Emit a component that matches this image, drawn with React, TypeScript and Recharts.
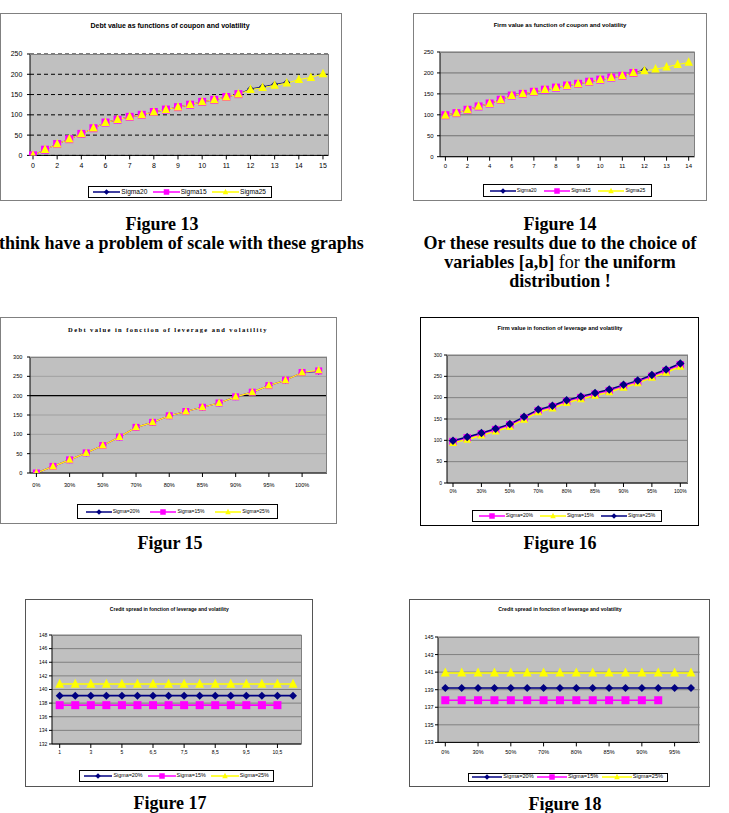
import React from 'react';
import { LineChart, Line, XAxis, YAxis, CartesianGrid, ReferenceLine } from 'recharts';

// ---------- DATA ----------
const fig13Cats = ['0','1','2','3','4','5','6','6,5','7','7,5','8','8,5','9','9,5','10','10,5','11','11,5','12','12,5','13','13,5','14','14,5','15'];
const fig13Sigma20 = [0,14,28,40,53,67,81,88,95,100,107,113,119,125,132,137,144,151,164,169,175,180];
const fig13Sigma15 = [0,14,28,40,53,67,81,88,95,100,107,113,119,125,132,137,144,151];
const fig13Sigma25 = [0,14,28,40,53,67,81,88,95,100,107,113,119,125,132,137,144,151,162,167,173,178,187,192,201];
const fig13Ticks = [0,50,100,150,200,250];

const fig14Cats = ['0','1','2','3','4','5','6','6,5','7','7,5','8','8,5','9','9,5','10','10,5','11','11,5','12','12,5','13','13,5','14'];
const fig14Sigma20 = [99,104,112,120,127,136,146,150,155,160,165,170,174,179,184,189,193,200,207];
const fig14Sigma15 = [99,104,112,120,127,136,146,150,155,160,165,170,174,179,184,189,193,200];
const fig14Sigma25 = [99,104,112,120,127,136,146,150,155,160,165,170,174,179,184,189,193,200,205,209,214,220,225];
const fig14Ticks = [0,50,100,150,200,250];

const fig15Cats = ['0%','20%','30%','40%','50%','60%','70%','75%','80%','83%','85%','88%','90%','93%','95%','98%','100%','105%'];
const fig15Sigma20 = [0,17,34,52,71,93,118,131,148,159,170,181,197,209,226,240,260,263];
const fig15Sigma15 = [0,17,34,52,71,93,118,131,148,159,170,181,197,209,226,240,260,264];
const fig15Sigma25 = [0,17,34,52,71,93,118,131,148,159,170,181,197,209,226,240,260,266];
const fig15Ticks = [0,50,100,150,200,250,300];
const fig15DarkLine = 200;

const fig16Cats = ['0%','20%','30%','40%','50%','60%','70%','75%','80%','83%','85%','88%','90%','93%','95%','98%','100%'];
const fig16Sigma20 = [97,106,115,125,136,152,169,179,191,200,208,216,227,237,250,263,277];
const fig16Sigma15 = [94,102,112,121,132,149,166,175,188,197,205,213,224,234,247,259,273];
const fig16Sigma25 = [99,108,117,127,138,155,172,181,194,203,211,219,230,240,253,266,280];
const fig16Ticks = [0,50,100,150,200,250,300];

const fig17Cats = ['1','2','3','4','5','6','6,5','7','7,5','8','8,5','9','9,5','10','10,5','11'];
const fig17Sigma20 = [139.1,139.1,139.1,139.1,139.1,139.1,139.1,139.1,139.1,139.1,139.1,139.1,139.1,139.1,139.1,139.1];
const fig17Sigma15 = [137.7,137.7,137.7,137.7,137.7,137.7,137.7,137.7,137.7,137.7,137.7,137.7,137.7,137.7,137.7];
const fig17Sigma25 = [140.8,140.8,140.8,140.8,140.8,140.8,140.8,140.8,140.8,140.8,140.8,140.8,140.8,140.8,140.8,140.8];
const fig17Ticks = [132,134,136,138,140,142,144,146,148];

const fig18Cats = ['0%','20%','30%','40%','50%','60%','70%','75%','80%','83%','85%','88%','90%','93%','95%','98%'];
const fig18Sigma20 = [139.2,139.2,139.2,139.2,139.2,139.2,139.2,139.2,139.2,139.2,139.2,139.2,139.2,139.2,139.2,139.2];
const fig18Sigma15 = [137.8,137.8,137.8,137.8,137.8,137.8,137.8,137.8,137.8,137.8,137.8,137.8,137.8,137.8];
const fig18Sigma25 = [140.9,140.9,140.9,140.9,140.9,140.9,140.9,140.9,140.9,140.9,140.9,140.9,140.9,140.9,140.9,140.9];
const fig18Ticks = [133,135,137,139,141,143,145];

// ---------- HELPERS ----------
const NAVY = '#000080';
const MAGENTA = '#FF00FF';
const YELLOW = '#FFFF00';
const SANS = '"Liberation Sans", Arial, sans-serif';
const SERIF = '"Liberation Serif", "Times New Roman", serif';

type Shape = 'diamond' | 'square' | 'triangle';
type S = { key: string; name: string; color: string; shape: Shape; values: number[]; size: number };

function buildRows(cats: string[], series: S[]) {
  return cats.map((c, i) => {
    const row: any = { cat: c };
    series.forEach((s) => {
      row[s.key] = i < s.values.length ? s.values[i] : null;
    });
    return row;
  });
}

function shapeEl(shape: Shape, cx: number, cy: number, size: number, color: string, key?: any) {
  const h = size / 2;
  if (shape === 'square') return <rect key={key} x={cx - h} y={cy - h} width={size} height={size} fill={color} />;
  if (shape === 'diamond')
    return <polygon key={key} points={`${cx},${cy - h} ${cx + h},${cy} ${cx},${cy + h} ${cx - h},${cy}`} fill={color} />;
  const t = size;
  return (
    <polygon key={key} points={`${cx},${cy - t * 0.6} ${cx + t / 2},${cy + t * 0.4} ${cx - t / 2},${cy + t * 0.4}`} fill={color} />
  );
}

const makeDot = (shape: Shape, color: string, size: number) => (p: any) => {
  const { cx, cy, index } = p;
  if (cx == null || cy == null || p.value == null || isNaN(cy)) return <g key={`n${index}`} />;
  return shapeEl(shape, cx, cy, size, color, `d${index}`);
};

type Box = { l: number; t: number; r: number; b: number };
type Cfg = {
  frame: Box; frameColor: string; frameW: number;
  title: string; titleY: number; titleStyle: React.CSSProperties; titleX: number;
  plot: Box; padL: number; padR: number;
  cats: string[]; series: S[]; domain: [number, number]; ticks: number[];
  tickFont: number; xTickSize: number; xTickMargin: number; yTickMargin: number;
  gridStroke: string; gridDash?: string; darkLine?: number;
  lineW: number;
  legend: Box; legendFont: number; legendOrder: S[]; legendLine: number;
};

function Panel({ c }: { c: Cfg }) {
  const yW = 40, top = 10, xH = 30, right = 12;
  const pw = c.plot.r - c.plot.l, ph = c.plot.b - c.plot.t;
  const data = buildRows(c.cats, c.series);
  return (
    <>
      <div style={{ position: 'absolute', left: c.frame.l, top: c.frame.t, width: c.frame.r - c.frame.l, height: c.frame.b - c.frame.t, border: `${c.frameW}px solid ${c.frameColor}`, boxSizing: 'border-box', background: '#fff' }} />
      <div style={{ position: 'absolute', left: c.titleX, top: c.titleY, transform: 'translate(-50%,-50%)', whiteSpace: 'nowrap', fontWeight: 'bold', color: '#000', ...c.titleStyle }}>{c.title}</div>
      <div style={{ position: 'absolute', left: c.plot.l - yW, top: c.plot.t - top }}>
        <LineChart width={pw + yW + right} height={ph + top + xH} data={data} margin={{ top, right, left: 0, bottom: 0 }}>
          <CartesianGrid vertical={false} fill="#C0C0C0" fillOpacity={1} stroke={c.gridStroke} strokeDasharray={c.gridDash} />
          <XAxis dataKey="cat" interval={1} padding={{ left: c.padL, right: c.padR }} height={xH} stroke="#000"
            tick={{ fontSize: c.tickFont, fill: '#000', fontFamily: SANS }} tickLine={{ stroke: '#000' }} axisLine={{ stroke: '#000' }}
            tickSize={c.xTickSize} tickMargin={c.xTickMargin} />
          <YAxis type="number" domain={c.domain} ticks={c.ticks} width={yW} interval={0} stroke="#000"
            tick={{ fontSize: c.tickFont, fill: '#000', fontFamily: SANS }} tickLine={{ stroke: '#000' }} axisLine={{ stroke: '#000' }}
            tickSize={3} tickMargin={c.yTickMargin} allowDataOverflow />
          {c.darkLine != null && <ReferenceLine y={c.darkLine} stroke="#000" strokeWidth={1.3} ifOverflow="hidden" />}
          {c.series.map((s) => (
            <Line key={s.key} dataKey={s.key} stroke={s.color} strokeWidth={c.lineW} dot={makeDot(s.shape, s.color, s.size)}
              activeDot={false} isAnimationActive={false} connectNulls={false} type="linear" />
          ))}
        </LineChart>
      </div>
      <div style={{ position: 'absolute', left: c.plot.l, top: c.plot.t, width: pw, height: ph, borderTop: '1px solid #808080', borderRight: '1px solid #808080', boxSizing: 'border-box', pointerEvents: 'none' }} />
      <div style={{ position: 'absolute', left: c.legend.l, top: c.legend.t, width: c.legend.r - c.legend.l, height: c.legend.b - c.legend.t, border: '1px solid #000', boxSizing: 'border-box', background: '#fff', display: 'flex', alignItems: 'center', justifyContent: 'space-around', fontFamily: SANS, fontSize: c.legendFont, color: '#000', padding: '0 2px' }}>
        {c.legendOrder.map((s) => (
          <div key={s.key} style={{ display: 'flex', alignItems: 'center', whiteSpace: 'nowrap' }}>
            <svg width={c.legendLine} height={10} style={{ display: 'block' }}>
              <line x1={0} x2={c.legendLine} y1={5} y2={5} stroke={s.color} strokeWidth={1.5} />
              {shapeEl(s.shape, c.legendLine / 2, 5, 5.5, s.color)}
            </svg>
            <span style={{ marginLeft: 1, lineHeight: 1 }}>{s.name}</span>
          </div>
        ))}
      </div>
    </>
  );
}

// ---------- CONFIGS ----------
const s13: S[] = [
  { key: 'a', name: 'Sigma20', color: NAVY, shape: 'diamond', values: fig13Sigma20, size: 7 },
  { key: 'b', name: 'Sigma15', color: MAGENTA, shape: 'square', values: fig13Sigma15, size: 8 },
  { key: 'c', name: 'Sigma25', color: YELLOW, shape: 'triangle', values: fig13Sigma25, size: 8.5 },
];
const s14: S[] = [
  { key: 'a', name: 'Sigma20', color: NAVY, shape: 'diamond', values: fig14Sigma20, size: 7 },
  { key: 'b', name: 'Sigma15', color: MAGENTA, shape: 'square', values: fig14Sigma15, size: 8 },
  { key: 'c', name: 'Sigma25', color: YELLOW, shape: 'triangle', values: fig14Sigma25, size: 8.5 },
];
const s15: S[] = [
  { key: 'a', name: 'Sigma=20%', color: NAVY, shape: 'diamond', values: fig15Sigma20, size: 7 },
  { key: 'b', name: 'Sigma=15%', color: MAGENTA, shape: 'square', values: fig15Sigma15, size: 7 },
  { key: 'c', name: 'Sigma=25%', color: YELLOW, shape: 'triangle', values: fig15Sigma25, size: 7.5 },
];
const s16: S[] = [
  { key: 'a', name: 'Sigma=20%', color: MAGENTA, shape: 'square', values: fig16Sigma20, size: 7.5 },
  { key: 'b', name: 'Sigma=15%', color: YELLOW, shape: 'triangle', values: fig16Sigma15, size: 8 },
  { key: 'c', name: 'Sigma=25%', color: NAVY, shape: 'diamond', values: fig16Sigma25, size: 8.5 },
];
const s17: S[] = [
  { key: 'a', name: 'Sigma=20%', color: NAVY, shape: 'diamond', values: fig17Sigma20, size: 8 },
  { key: 'b', name: 'Sigma=15%', color: MAGENTA, shape: 'square', values: fig17Sigma15, size: 8 },
  { key: 'c', name: 'Sigma=25%', color: YELLOW, shape: 'triangle', values: fig17Sigma25, size: 9 },
];
const s18: S[] = [
  { key: 'a', name: 'Sigma=20%', color: NAVY, shape: 'diamond', values: fig18Sigma20, size: 8 },
  { key: 'b', name: 'Sigma=15%', color: MAGENTA, shape: 'square', values: fig18Sigma15, size: 8 },
  { key: 'c', name: 'Sigma=25%', color: YELLOW, shape: 'triangle', values: fig18Sigma25, size: 9 },
];

const cfgs: Cfg[] = [
  {
    frame: { l: 0, t: 13, r: 342, b: 201 }, frameColor: '#808080', frameW: 1.5,
    title: 'Debt value as functions of coupon and volatility', titleX: 170, titleY: 25, titleStyle: { fontFamily: SANS, fontSize: 7 },
    plot: { l: 30.3, t: 54.3, r: 329, b: 155.7 }, padL: 3, padR: 5.7,
    cats: fig13Cats, series: s13, domain: [0, 250], ticks: fig13Ticks,
    tickFont: 7, xTickSize: 4, xTickMargin: 3.5, yTickMargin: 4.6,
    gridStroke: '#000', gridDash: '4 3', lineW: 1,
    legend: { l: 87.7, t: 185.7, r: 271.7, b: 198.3 }, legendFont: 6.6, legendOrder: s13, legendLine: 27,
  },
  {
    frame: { l: 413.3, t: 13, r: 706.7, b: 201 }, frameColor: '#808080', frameW: 1.5,
    title: 'Firm value as function of coupon and volatility', titleX: 560, titleY: 25, titleStyle: { fontFamily: SANS, fontSize: 6 },
    plot: { l: 440.3, t: 52.3, r: 695, b: 157 }, padL: 5.4, padR: 6,
    cats: fig14Cats, series: s14, domain: [0, 250], ticks: fig14Ticks,
    tickFont: 6, xTickSize: 4, xTickMargin: 2.6, yTickMargin: 3.3,
    gridStroke: '#707070', lineW: 1,
    legend: { l: 483, t: 184, r: 652, b: 197 }, legendFont: 5, legendOrder: s14, legendLine: 26,
  },
  {
    frame: { l: 0, t: 316.7, r: 336.7, b: 524 }, frameColor: '#808080', frameW: 1.5,
    title: 'Debt value in fonction of leverage and volatility', titleX: 168, titleY: 329.3, titleStyle: { fontFamily: SERIF, fontSize: 6.5, letterSpacing: 1.4 },
    plot: { l: 30.3, t: 357.3, r: 327.3, b: 473.3 }, padL: 6.4, padR: 8.3,
    cats: fig15Cats, series: s15, domain: [0, 300], ticks: fig15Ticks,
    tickFont: 5.6, xTickSize: 4, xTickMargin: 5.7, yTickMargin: 4.6,
    gridStroke: '#A0A0A0', darkLine: fig15DarkLine, lineW: 1.2,
    legend: { l: 77.3, t: 504.3, r: 277.7, b: 519.3 }, legendFont: 5, legendOrder: s15, legendLine: 26,
  },
  {
    frame: { l: 420, t: 316.7, r: 699.3, b: 525.7 }, frameColor: '#000', frameW: 1.3,
    title: 'Firm value in fonction of leverage and volatility', titleX: 560, titleY: 327.7, titleStyle: { fontFamily: SANS, fontSize: 5.6 },
    plot: { l: 446.7, t: 355.3, r: 687.7, b: 483.3 }, padL: 6, padR: 7.7,
    cats: fig16Cats, series: s16, domain: [0, 300], ticks: fig16Ticks,
    tickFont: 5, xTickSize: 4, xTickMargin: 2.65, yTickMargin: 2,
    gridStroke: '#808080', lineW: 1.5,
    legend: { l: 472.3, t: 510, r: 661.7, b: 521.7 }, legendFont: 5, legendOrder: s16, legendLine: 26,
  },
  {
    frame: { l: 25, t: 599.3, r: 313.3, b: 786.7 }, frameColor: '#555', frameW: 1.5,
    title: 'Credit spread in fonction of leverage and volatility', titleX: 169.3, titleY: 609, titleStyle: { fontFamily: SANS, fontSize: 5 },
    plot: { l: 52.3, t: 635, r: 301.7, b: 744 }, padL: 7.7, padR: 8.4,
    cats: fig17Cats, series: s17, domain: [132, 148], ticks: fig17Ticks,
    tickFont: 5, xTickSize: 4, xTickMargin: 2.95, yTickMargin: 1.6,
    gridStroke: '#808080', lineW: 1.6,
    legend: { l: 79, t: 770, r: 274.3, b: 782.3 }, legendFont: 5.4, legendOrder: s17, legendLine: 28,
  },
  {
    frame: { l: 409, t: 599.3, r: 710, b: 786.7 }, frameColor: '#555', frameW: 1.5,
    title: 'Credit spread in fonction of leverage and volatility', titleX: 560, titleY: 609, titleStyle: { fontFamily: SANS, fontSize: 5.2 },
    plot: { l: 437.7, t: 637.3, r: 699.3, b: 742.7 }, padL: 7.3, padR: 8.6,
    cats: fig18Cats, series: s18, domain: [133, 145], ticks: fig18Ticks,
    tickFont: 5.5, xTickSize: 4, xTickMargin: 4, yTickMargin: 1.4,
    gridStroke: '#808080', lineW: 1.6,
    legend: { l: 467.7, t: 772.7, r: 667.7, b: 781.7 }, legendFont: 5.6, legendOrder: s18, legendLine: 30,
  },
];

const capStyle: React.CSSProperties = {
  position: 'absolute', transform: 'translate(-50%,-50%)', whiteSpace: 'nowrap',
  fontFamily: SERIF, fontWeight: 'bold', fontSize: 18, color: '#000', lineHeight: 1,
};

function Cap({ x, y, children, left }: { x: number; y: number; children: React.ReactNode; left?: boolean }) {
  if (left) {
    return <div style={{ ...capStyle, transform: 'translate(0,-50%)', left: x, top: y }}>{children}</div>;
  }
  return <div style={{ ...capStyle, left: x, top: y }}>{children}</div>;
}

export default function App() {
  return (
    <div style={{ position: 'absolute', left: 0, top: 0, width: 729, height: 813, background: '#fff', overflow: 'hidden' }}>
      {cfgs.map((c, i) => (
        <Panel key={i} c={c} />
      ))}
      <Cap x={162} y={224}>Figure 13</Cap>
      <Cap x={-1} y={243} left>think have a problem of scale with these graphs</Cap>
      <Cap x={560} y={224}>Figure 14</Cap>
      <Cap x={560} y={243}>Or these results due to the choice of</Cap>
      <Cap x={560} y={262}>variables [a,b] <span style={{ fontWeight: 'normal' }}>for</span> the uniform</Cap>
      <Cap x={560} y={281}>distribution !</Cap>
      <Cap x={170} y={543}>Figur 15</Cap>
      <Cap x={560} y={543}>Figure 16</Cap>
      <Cap x={170} y={803.3}>Figure 17</Cap>
      <Cap x={565} y={804}>Figure 18</Cap>
    </div>
  );
}
